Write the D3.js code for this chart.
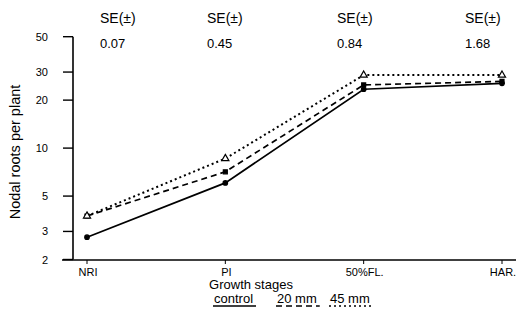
<!DOCTYPE html>
<html>
<head>
<meta charset="utf-8">
<script src="https://cdn.jsdelivr.net/npm/d3@7"></script>
<style>
  body { margin: 0; background: #fff; }
  svg { font-family: "Liberation Sans", Arial, sans-serif; }
</style>
</head>
<body>
<script>
const stages = ["NRI", "PI", "50%FL.", "HAR."]
const seLabels = ["0.07", "0.45", "0.84", "1.68"]
const control = [2.76, 6.05, 23.4, 25.5]
const mm20 = [3.75, 7.1, 24.9, 26.2]
const mm45 = [3.75, 8.6, 28.7, 28.7]
const yTicks = [2, 3, 5, 10, 20, 30, 50]

const width = 516, height = 322
const svg = d3.select("body").append("svg")
    .attr("width", width)
    .attr("height", height)

const x = d3.scalePoint().domain(stages).range([87, 502])
const y = d3.scaleLog().domain([2, 50]).range([259.5, 36.7])

// y axis
svg.append("line")
    .attr("x1", 73).attr("x2", 73)
    .attr("y1", y(50)).attr("y2", y(2))
    .attr("stroke", "#000").attr("stroke-width", 1.6)
svg.selectAll(".ytick").data(yTicks).join("line")
    .attr("x1", 63).attr("x2", 73)
    .attr("y1", d => y(d)).attr("y2", d => y(d))
    .attr("stroke", "#000").attr("stroke-width", 1.4)
svg.selectAll(".ylab").data(yTicks).join("text")
    .attr("x", 48)
    .attr("y", d => y(d) + 4)
    .attr("text-anchor", "end")
    .attr("font-size", 11)
    .text(d => d)

// x axis
svg.append("line")
    .attr("x1", 62).attr("x2", 516)
    .attr("y1", 260).attr("y2", 260)
    .attr("stroke", "#000").attr("stroke-width", 1.6)
svg.selectAll(".xtick").data(stages).join("line")
    .attr("x1", d => x(d)).attr("x2", d => x(d))
    .attr("y1", 260).attr("y2", 264)
    .attr("stroke", "#000")
svg.selectAll(".xlab").data(stages).join("text")
    .attr("x", d => x(d) + 1)
    .attr("y", 276)
    .attr("text-anchor", "middle")
    .attr("font-size", 11)
    .text(d => d)

svg.append("text")
    .attr("x", 251).attr("y", 289)
    .attr("text-anchor", "middle")
    .attr("font-size", 13)
    .text("Growth stages")

svg.append("text")
    .attr("transform", "translate(20,152) rotate(-90)")
    .attr("text-anchor", "middle")
    .attr("font-size", 14.5)
    .text("Nodal roots per plant")

// SE row
const seX = [100, 207, 337, 465]
svg.selectAll(".se").data(seLabels).join("text")
    .attr("x", (d, i) => seX[i]).attr("y", 23)
    .attr("font-size", 14)
    .text("SE(±)")
svg.selectAll(".sev").data(seLabels).join("text")
    .attr("x", (d, i) => seX[i]).attr("y", 48)
    .attr("font-size", 13)
    .text(d => d)

// lines
const series = [
    { name: "control", values: control, dash: null, marker: "circle" },
    { name: "20 mm", values: mm20, dash: "6,4", marker: "square" },
    { name: "45 mm", values: mm45, dash: "2,3", marker: "triangle" }
]
const line = d3.line().x((d, i) => x(stages[i])).y(d => y(d))

series.forEach(s => {
    svg.append("path")
        .datum(s.values)
        .attr("d", line)
        .attr("fill", "none")
        .attr("stroke", "#000")
        .attr("stroke-width", s.dash === "2,3" ? 2 : 1.7)
        .attr("stroke-dasharray", s.dash)
    const sym = s.marker === "circle" ? d3.symbolCircle : s.marker === "square" ? d3.symbolSquare : d3.symbolTriangle
    svg.selectAll(".m-" + s.marker).data(s.values).join("path")
        .attr("transform", (d, i) => `translate(${x(stages[i])},${y(d)})`)
        .attr("d", d3.symbol(sym, s.marker === "triangle" ? 22 : 16))
        .attr("fill", s.marker === "triangle" ? "#fff" : "#000")
        .attr("stroke", "#000")
        .attr("stroke-width", 1.2)
})

// legend
const legX = [214, 277, 330]
series.forEach((s, i) => {
    const t = svg.append("text")
        .attr("x", legX[i]).attr("y", 303)
        .attr("font-size", 13)
        .text(s.name)
    const w = t.node().getComputedTextLength()
    svg.append("line")
        .attr("x1", legX[i] - 1).attr("x2", legX[i] + w + 3)
        .attr("y1", 306).attr("y2", 306)
        .attr("stroke", "#000")
        .attr("stroke-width", 1.5)
        .attr("stroke-dasharray", s.dash)
})
</script>
</body>
</html>
